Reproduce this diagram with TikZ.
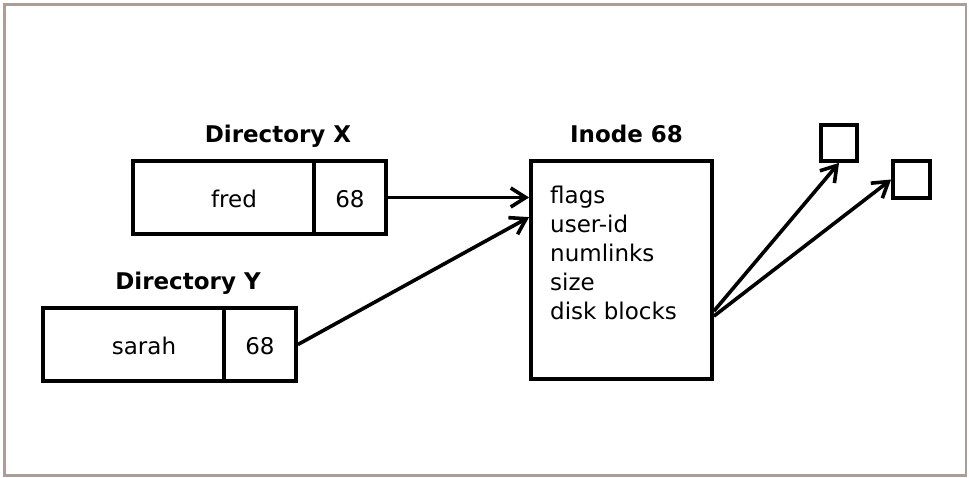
\documentclass[tikz,border=0pt]{standalone}
\usepackage{fontspec}
\setmainfont{DejaVu Sans}
\usetikzlibrary{arrows.meta,calc}
\definecolor{framecol}{RGB}{170,158,150}
\begin{document}
\begin{tikzpicture}[x=1pt,y=-1pt,
  box/.style={draw,line width=3.8pt,inner sep=0pt,text height=19pt,text depth=0pt,font=\fontsize{23}{27}\selectfont},
  ttl/.style={font=\bfseries\fontsize{23}{27}\selectfont,anchor=base,inner sep=0pt},
  arr/.style={line width=3.6pt,-{Straight Barb[length=15pt,width=19pt]}}]
\useasboundingbox (0,0) rectangle (969,477);
\draw[framecol,line width=2.2pt] (4.5,4.5) rectangle (966,475.5);

\node[box,minimum width=181pt,minimum height=73pt] (xname) at (223.5,197.5) {\hspace*{21pt}fred};
\node[box,minimum width=72pt,minimum height=73pt] (xnum) at (350,197.5) {68};
\node[ttl] (xttl) at (278,142) {Directory X};

\node[box,minimum width=181pt,minimum height=73pt] (yname) at (133.5,344.5) {\hspace*{21pt}sarah};
\node[box,minimum width=72pt,minimum height=73pt] (ynum) at (260,344.5) {68};
\node[ttl] (yttl) at (188,289) {Directory Y};

\node[box,minimum width=181pt,minimum height=218pt] (inode) at (621.5,270) {};
\node[ttl] (ittl) at (626.5,142) {Inode 68};
\node[anchor=north west,align=left,inner sep=0pt,font=\fontsize{23}{29}\selectfont] (fields) at (550,186) {flags\\user-id\\numlinks\\size\\disk blocks};

\node[box,minimum width=36pt,minimum height=36pt] (sq1) at (839,143) {};
\node[box,minimum width=37pt,minimum height=37pt] (sq2) at (911.5,179.5) {};

\draw[arr] (xnum.east) -- (inode.west |- xnum.east);
\draw[arr] (ynum.east) -- ($(inode.north west)+(0,58)$);
\draw[arr] ($(inode.north east)+(0,152)$) -- (sq1.south);
\draw[arr] ($(inode.north east)+(0,157)$) -- (sq2.west);
\end{tikzpicture}
\end{document}
